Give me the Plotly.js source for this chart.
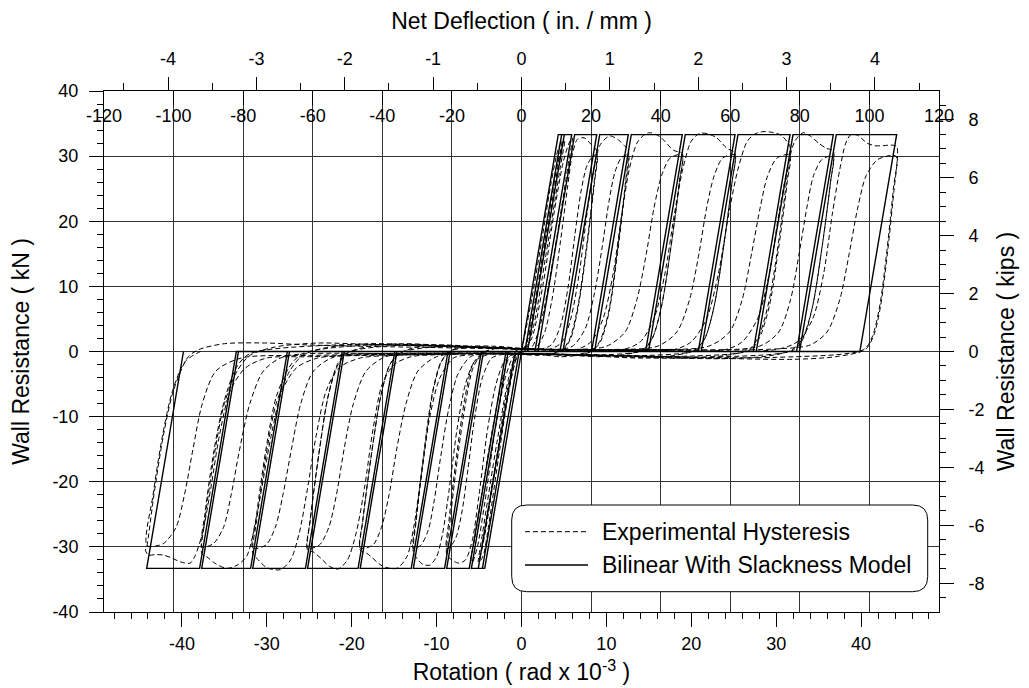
<!DOCTYPE html>
<html><head><meta charset="utf-8">
<script src="https://cdn.plot.ly/plotly-3.0.1.min.js"></script>
<style>html,body{margin:0;padding:0;background:#fff;} #chart{width:1029px;height:688px;}</style>
</head><body><div id="chart"></div>
<script>
// ---------------- DATA (rotation in rad x 10^-3, resistance in kN) ----------------
const seriesNames = ['Experimental Hysteresis', 'Bilinear With Slackness Model'];

// Bilinear with slackness model: vertex path
const modelPath = [
[0,0],[4.33,33.3],[4.73,33.3],[0.40,0],[0,0],[-4.33,-33.3],[-4.6,-33.3],[-0.27,0],
[0.40,0],[4.73,33.3],[5.04,33.3],[0.71,0],[-0.27,0],[-4.6,-33.3],[-5.09,-33.3],[-0.76,0],
[0.71,0],[5.04,33.3],[5.91,33.3],[1.58,0],[-0.76,0],[-5.09,-33.3],[-5.9,-33.3],[-1.57,0],
[1.58,0],[1.93,0],[6.26,33.3],[8.86,33.3],[4.53,0],[-1.57,0],[-1.82,0],[-6.15,-33.3],[-8.81,-33.3],[-4.48,0],
[4.53,0],[4.88,0],[9.21,33.3],[12.58,33.3],[8.25,0],[-4.48,0],[-4.73,0],[-9.06,-33.3],[-12.74,-33.3],[-8.41,0],
[8.25,0],[8.60,0],[12.93,33.3],[18.94,33.3],[14.61,0],[-8.41,0],[-8.66,0],[-12.99,-33.3],[-19.0,-33.3],[-14.67,0],
[14.61,0],[14.96,0],[19.29,33.3],[25.15,33.3],[20.82,0],[-14.67,0],[-14.92,0],[-19.25,-33.3],[-25.2,-33.3],[-20.87,0],
[20.82,0],[21.17,0],[25.5,33.3],[31.63,33.3],[27.3,0],[-20.87,0],[-21.12,0],[-25.45,-33.3],[-31.66,-33.3],[-27.33,0],
[27.3,0],[27.65,0],[31.98,33.3],[36.73,33.3],[32.4,0],[-27.33,0],[-27.58,0],[-31.91,-33.3],[-37.67,-33.3],[-33.34,0],
[32.4,0],[32.75,0],[37.08,33.3],[44.19,33.3],[39.86,0],[-33.34,0],[-33.59,0],[-37.92,-33.3],[-44.15,-33.3],[-39.82,0]
];

// Experimental hysteresis, read cycle by cycle (primary cycle, then repeat cycle)
const expSmall = [
[0,0],[1.2,8],[2.5,18],[3.5,26],[4.3,31],[4.75,32.4],[4.3,28.5],[2.6,15],[1.1,3.5],[0.2,0.3],[-0.6,-1],[-1.6,-7],[-2.9,-18],[-3.9,-27],[-4.5,-31.3],[-4.9,-32.2],[-4.4,-28],[-2.7,-14.5],[-1.2,-4],[-0.4,-0.5],[0.4,0.5],
[1.5,7],[3.0,19],[4.2,28.5],[4.9,32],[5.1,32.5],[4.6,28.5],[2.9,15],[1.4,3.8],[0.5,0.3],[-0.5,-0.5],[-1.7,-6],[-3.1,-18],[-4.3,-28],[-4.9,-31.6],[-5.1,-32.3],[-4.6,-28],[-2.9,-14],[-1.5,-4],[-0.6,-0.4],[0.3,0.4],
[1.2,2],[2.5,10],[3.8,21],[4.9,29],[5.6,32],[6.0,32.8],[5.6,29.5],[3.9,15.5],[2.3,4.5],[1.2,0.6],[0,-0.3],[-0.9,-0.7],[-1.9,-4],[-3.1,-12],[-4.3,-23],[-5.2,-30],[-5.8,-32.4],[-5.95,-32],[-5.4,-28],[-3.7,-14],[-2.2,-4],[-1.3,-0.6],[0,0.5]
];
const expLoopA = [
[1.5,0.4],[2.6,2.5],[3.6,8],[4.6,17],[5.4,25],[6.0,30.3],[6.6,32.6],[7.4,32.8],[8.2,31.8],[8.86,30.8],[8.55,26],[7.65,16],[6.65,7],[5.7,2],[4.8,0.3],[3.5,-0.4],[2,-0.6],[0.5,-0.5],[-1,-0.5],[-2,-1.5],[-3,-5],[-4,-12],[-5,-22],[-5.8,-29],[-6.6,-32],[-7.4,-32.5],[-8.2,-32],[-8.81,-31.2],[-8.5,-27],[-7.6,-17],[-6.6,-8],[-5.7,-2.5],[-4.6,-0.3],[-3,0.5],[-1.5,0.6],[0,0.4]
];
const expRepA = [
[2,0.3],[3.5,1],[4.6,4],[5.5,10],[6.3,18],[7.0,24.5],[7.7,28.5],[8.4,30],[8.9,30.2],[8.6,26],[7.7,16],[6.7,7],[5.8,2],[4.9,0.3],[3,-0.4],[0,-0.4],[-2,-0.4],[-3.5,-1],[-4.6,-4],[-5.5,-10],[-6.3,-18],[-7.0,-24.5],[-7.7,-28.5],[-8.4,-30],[-8.85,-30.3],[-8.55,-26],[-7.65,-16],[-6.65,-7],[-5.75,-2],[-4.7,-0.3],[-3,0.5],[0,0.4]
];
const expLoopB = [
[2,0.3],[3.5,0.4],[4.8,1.5],[5.8,5],[6.8,12],[7.7,21],[8.5,28],[9.3,31.8],[10.4,33.1],[11.4,32.5],[12.2,31.5],[12.58,31],[12.25,26],[11.25,15],[10.25,6],[9.2,1.5],[8.2,0],[6.5,-0.6],[4.5,-0.8],[2,-0.4],[0,-0.3],[-2,-0.3],[-4,-0.5],[-5.5,-1.5],[-6.6,-5],[-7.6,-12],[-8.5,-21],[-9.3,-28],[-10.0,-31.5],[-10.8,-32.8],[-11.6,-32.7],[-12.3,-31.8],[-12.74,-30.8],[-12.4,-26],[-11.4,-15],[-10.4,-6],[-9.4,-1.5],[-8.2,0.2],[-6,0.8],[-3,0.8],[0,0.5]
];
const expRepB = [
[4,0.3],[6,0.8],[7.5,3.5],[8.6,9],[9.5,16],[10.3,23],[11.0,27.5],[11.8,29.8],[12.6,30.2],[12.3,26],[11.3,15],[10.3,6],[9.3,1.5],[8.3,0.1],[6,-0.5],[0,-0.3],[-4,-0.3],[-6,-0.8],[-7.5,-3.5],[-8.6,-9],[-9.5,-16],[-10.3,-23],[-11.0,-27.5],[-11.9,-29.8],[-12.75,-30.2],[-12.45,-26],[-11.45,-15],[-10.45,-6],[-9.45,-1.5],[-8.3,0.1],[-5,0.7],[0,0.4]
];
const expLoopC = [
[3,0.2],[6.5,0.3],[8.2,1.5],[9.6,5],[10.8,12],[11.8,21],[12.7,28],[13.6,32],[14.4,33.2],[15.1,33.6],[16.3,33],[17.9,30.9],[18.94,30.4],[18.6,26],[17.6,16],[16.5,7],[15.4,2],[14.2,0.2],[12,-0.5],[9,-0.8],[6,-0.6],[3,-0.5],[0,-0.3],[-3,-0.3],[-6,-0.5],[-8,-1],[-9.6,-4],[-10.8,-10],[-11.8,-19],[-12.7,-27],[-13.5,-31.5],[-14.7,-33.3],[-16.3,-33],[-18.2,-31],[-19.0,-30.5],[-18.7,-26],[-17.7,-16],[-16.6,-7],[-15.5,-2],[-14.2,-0.2],[-12,0.8],[-9,1],[-6,0.8],[-3,0.5],[0,0.3]
];
const expRepC = [
[6,0.3],[10,0.8],[12.2,3],[13.6,8],[14.7,15],[15.6,22],[16.5,27],[17.5,29.7],[18.9,30.2],[18.6,26],[17.6,16],[16.5,7],[15.4,2],[14.3,0.2],[10,-0.5],[0,-0.3],[-6,-0.3],[-10,-0.8],[-12.2,-3],[-13.6,-8],[-14.7,-15],[-15.6,-22],[-16.5,-27],[-17.5,-29.7],[-19.0,-30.2],[-18.7,-26],[-17.7,-16],[-16.6,-7],[-15.5,-2],[-14.3,-0.2],[-9,0.8],[0,0.4]
];
const expLoopD = [
[6,0.2],[12,0.3],[14,1.5],[15.6,5],[16.9,12],[18.0,21],[19.0,28],[20.0,32.3],[21.0,33.5],[22.0,33.4],[23,32.8],[24.2,31.2],[25.15,30.5],[24.8,26],[23.8,16],[22.7,7],[21.6,2],[20.4,0.2],[18,-0.6],[14,-1.0],[10,-0.8],[5,-0.5],[0,-0.4],[-5,-0.3],[-10,-0.5],[-13,-0.8],[-15,-2],[-16.4,-5],[-17.5,-12],[-18.5,-21],[-19.5,-28],[-20.5,-32],[-21.6,-33.4],[-22.6,-33],[-23.6,-31.8],[-24.5,-30.8],[-25.2,-30.5],[-24.9,-26],[-23.9,-16],[-22.8,-7],[-21.6,-2],[-20.4,-0.2],[-18,0.8],[-14,1.2],[-10,1.0],[-5,0.7],[0,0.4]
];
const expRepD = [
[10,0.3],[16,0.8],[18.3,3],[19.8,8],[20.9,15],[21.8,22],[22.7,27],[23.7,29.7],[25.1,30.2],[24.8,26],[23.8,16],[22.7,7],[21.6,2],[20.5,0.2],[15,-0.6],[0,-0.3],[-10,-0.3],[-16,-0.8],[-18.3,-3],[-19.8,-8],[-20.9,-15],[-21.8,-22],[-22.7,-27],[-23.8,-29.7],[-25.2,-30.2],[-24.9,-26],[-23.9,-16],[-22.8,-7],[-21.7,-2],[-20.5,-0.2],[-14,1.0],[0,0.4]
];
const expLoopE = [
[8,0.2],[18,0.3],[20,1.5],[21.8,5],[23.2,12],[24.4,21],[25.5,28],[26.6,32.3],[27.5,33.4],[28.4,33.75],[29.3,33.7],[30.6,33.2],[31.4,32],[31.63,31.5],[31.3,27],[30.3,17],[29.2,8],[28.0,2.5],[26.8,0.3],[24,-0.6],[20,-1.0],[15,-1.0],[10,-0.7],[5,-0.5],[0,-0.4],[-5,-0.3],[-10,-0.4],[-15,-0.6],[-19,-1],[-21.5,-2.5],[-23.0,-6],[-24.2,-13],[-25.2,-21],[-26.2,-28],[-27.2,-32],[-28.4,-33.5],[-30,-33.2],[-31.0,-32],[-31.66,-31],[-31.2,-26],[-30.1,-16],[-28.9,-8],[-27.3,-3],[-25.8,-0.6],[-23,0.6],[-18,1.2],[-12,1],[-6,0.7],[0,0.4]
];
const expRepE = [
[14,0.3],[22,0.8],[24.5,3],[26,8],[27.1,15],[28.1,22],[29.0,27],[30.1,29.7],[31.6,30.2],[31.3,26],[30.3,16],[29.2,7],[28.0,2],[26.9,0.2],[20,-0.7],[0,-0.3],[-14,-0.3],[-22,-0.8],[-24.5,-3],[-26,-8],[-27.1,-15],[-28.1,-22],[-29,-27],[-30.1,-29.7],[-31.65,-30.2],[-31.2,-25],[-30.1,-15],[-28.9,-7],[-27.4,-2.5],[-25.9,-0.4],[-18,1.0],[0,0.4]
];
const expLoopF = [
[10,0.2],[24,0.3],[26,1.5],[27.8,5],[29.2,12],[30.3,21],[31.3,28],[32.2,32.3],[33.2,33.6],[34,33.1],[35,32],[35.9,31.2],[36.73,30.8],[36.4,26],[35.4,16],[34.3,7],[33.1,2],[31.8,0.2],[29,-0.7],[24,-1.1],[18,-1.0],[12,-0.7],[6,-0.5],[0,-0.4],[-6,-0.3],[-12,-0.5],[-18,-0.6],[-24,-1],[-26.5,-2.5],[-28.2,-6],[-29.5,-13],[-30.6,-21],[-31.6,-28],[-32.4,-31.5],[-33.5,-32.8],[-34.7,-33.3],[-36,-32.6],[-37.1,-31.5],[-37.67,-31],[-37.3,-26],[-36.2,-16],[-35,-8],[-33.5,-3],[-32,-0.6],[-29,0.7],[-24,1.3],[-18,1.1],[-12,0.9],[-6,0.6],[0,0.4]
];
const expRepF = [
[16,0.3],[28,0.8],[30.3,3],[31.7,8],[32.7,15],[33.6,22],[34.4,27],[35.4,29.5],[36.7,30],[36.4,26],[35.4,16],[34.3,7],[33.2,2],[32,0.2],[24,-0.8],[0,-0.3],[-16,-0.3],[-28,-0.8],[-30.4,-3],[-32,-8],[-33.2,-15],[-34.2,-22],[-35.1,-27],[-36.3,-29.5],[-37.65,-30],[-37.3,-25],[-36.2,-15],[-35,-7.5],[-33.6,-2.5],[-32.1,-0.4],[-22,1.0],[0,0.4]
];
const expLoopG = [
[12,0.2],[30,0.3],[32.5,1.5],[34.3,5],[35.6,12],[36.6,21],[37.5,28],[38.2,32],[38.8,33.3],[39.6,33.2],[40.7,32],[41.6,31.6],[42.6,31.6],[43.5,31.7],[44.19,31.5],[44.3,30],[43.9,25],[43.1,15],[42.3,7],[41.5,2.5],[40.5,0.3],[37,-0.8],[32,-1.2],[25,-1.1],[18,-0.9],[10,-0.6],[0,-0.4],[-10,-0.3],[-18,-0.5],[-25,-0.8],[-30,-1],[-32.5,-2.5],[-34.3,-6],[-35.6,-13],[-36.6,-21],[-37.6,-28],[-38.5,-31.5],[-39.05,-32.5],[-40.2,-32.3],[-41.2,-31.7],[-42.2,-31.25],[-43.2,-31.2],[-43.96,-31.25],[-44.3,-30.5],[-44.15,-30],[-43.3,-22],[-42.2,-13],[-41.0,-6],[-39.25,-0.8],[-38,0.3],[-35,1.2],[-30,1.3],[-25,1.0]
];
const expRepG = [
[-10,0.6],[10,0.2],[30,0.4],[34,1],[36,3],[37.5,8],[38.6,15],[39.6,22],[40.6,27],[42,29.5],[44.1,30],[43.8,25],[43,15],[42.2,7],[41.3,2.2],[40.3,0.3],[30,-0.9],[0,-0.4],[-25,-0.6],[-33,-1],[-36,-3],[-37.6,-8],[-38.7,-15],[-39.7,-22],[-40.7,-27],[-42.2,-29.5],[-44.1,-29.8],[-43.4,-22],[-42.3,-13],[-41.1,-6],[-39.6,-1.5],[-37.5,0.2]
];

// Axis definitions
const rotTicks = [-40,-30,-20,-10,0,10,20,30,40];
const inchTicks = [-4,-3,-2,-1,0,1,2,3,4];
const mmTicks = [-120,-100,-80,-60,-40,-20,0,20,40,60,80,100,120];
const kNTicks = [-40,-30,-20,-10,0,10,20,30,40];
const kipTicks = [-8,-6,-4,-2,0,2,4,6,8];
const wallHeightM = 2.44;          // rotation = deflection(mm) / height(m)
const mmRange = 120;
const kNRange = 40;
const kNPerKip = 4.448;

// ---------------- BUILD ----------------
const expPath = [].concat(expSmall, expLoopA, expRepA, expLoopB, expRepB, expLoopC, expRepC,
  expLoopD, expRepD, expLoopE, expRepE, expLoopF, expRepF, expLoopG, expRepG);

const rotRange = mmRange / wallHeightM;
const inRange = mmRange / 25.4;
const kipRange = kNRange / kNPerKip;

const FONT = '"Liberation Sans", Arial, Helvetica, sans-serif';

const traces = [
  { type:'scatter', mode:'lines', name:seriesNames[0], x:expPath.map(p=>p[0]), y:expPath.map(p=>p[1]),
    line:{color:'#000', width:1, dash:'5px,3px', shape:'spline', smoothing:0.8}, hoverinfo:'skip', showlegend:false },
  { type:'scatter', mode:'lines', name:seriesNames[1], x:modelPath.map(p=>p[0]), y:modelPath.map(p=>p[1]),
    line:{color:'#000', width:1.4}, hoverinfo:'skip', showlegend:false },
  { type:'scatter', mode:'lines', x:[null], y:[null], xaxis:'x2', yaxis:'y', showlegend:false, hoverinfo:'skip' },
  { type:'scatter', mode:'lines', x:[null], y:[null], xaxis:'x3', yaxis:'y', showlegend:false, hoverinfo:'skip' },
  { type:'scatter', mode:'lines', x:[null], y:[null], xaxis:'x', yaxis:'y2', showlegend:false, hoverinfo:'skip' }
];

// plot box in pixels (for legend placement only)
const L = 104, R = 939, T = 91, B = 612;
const PX = px => (px - L) / (R - L);
const PY = py => (B - py) / (B - T);
function roundRect(x0, y0, x1, y1, r) {
  const rx = r / (R - L), ry = r / (B - T);
  const a = PX(x0), b = PX(x1), top = PY(y0), bot = PY(y1);
  return `M${a+rx},${top} L${b-rx},${top} Q${b},${top} ${b},${top-ry} L${b},${bot+ry} Q${b},${bot} ${b-rx},${bot} ` +
         `L${a+rx},${bot} Q${a},${bot} ${a},${bot+ry} L${a},${top-ry} Q${a},${top} ${a+rx},${top} Z`;
}

const tickFont = {family:FONT, size:18, color:'#000'};
const titleFont = {family:FONT, size:23, color:'#000'};

const layout = {
  width:1029, height:688,
  margin:{l:L, r:1029-R, t:T, b:688-B, pad:0},
  paper_bgcolor:'#fff', plot_bgcolor:'#fff',
  font:{family:FONT, size:18, color:'#000'},
  showlegend:false,
  xaxis:{
    range:[-rotRange, rotRange], tickvals:rotTicks, ticktext:rotTicks.map(String),
    ticks:'outside', ticklen:14, tickwidth:1, tickcolor:'#000',
    minor:{ticks:'outside', ticklen:6, tickwidth:1, tickcolor:'#000', dtick:2, tick0:0, showgrid:false},
    showline:true, linecolor:'#000', linewidth:1, showgrid:false, zeroline:false,
    tickfont:tickFont, ticklabelstandoff:1,
    title:{text:'Rotation ( rad x 10<sup>-3</sup> )', font:titleFont, standoff:11},
    automargin:false, fixedrange:true
  },
  xaxis2:{
    overlaying:'x', side:'top', anchor:'y',
    range:[-inRange, inRange], tickvals:inchTicks, ticktext:inchTicks.map(String),
    ticks:'outside', ticklen:13, tickwidth:1, tickcolor:'#000',
    minor:{ticks:'outside', ticklen:7, tickwidth:1, tickcolor:'#000', dtick:0.5, tick0:0, showgrid:false},
    showline:true, linecolor:'#000', linewidth:1, showgrid:false, zeroline:false,
    tickfont:tickFont, ticklabelstandoff:5,
    title:{text:'Net Deflection ( in. / mm )', font:titleFont, standoff:12},
    automargin:false, fixedrange:true
  },
  xaxis3:{
    overlaying:'x', side:'top', anchor:'y',
    range:[-mmRange, mmRange], tickvals:mmTicks, ticktext:mmTicks.map(String),
    ticks:'inside', ticklen:14, tickwidth:1, tickcolor:'#000',
    ticklabelposition:'inside', ticklabeloverflow:'allow', ticklabelstandoff:5,
    showline:false, showgrid:true, gridcolor:'#333', gridwidth:1, zeroline:false,
    tickfont:tickFont, automargin:false, fixedrange:true
  },
  yaxis:{
    range:[-kNRange, kNRange], tickvals:kNTicks, ticktext:kNTicks.map(String),
    ticks:'outside', ticklen:14, tickwidth:1, tickcolor:'#000',
    minor:{ticks:'outside', ticklen:6, tickwidth:1, tickcolor:'#000', dtick:2, tick0:0, showgrid:false},
    showline:true, linecolor:'#000', linewidth:1, showgrid:true, gridcolor:'#333', gridwidth:1, zeroline:false,
    tickfont:tickFont, ticklabelstandoff:7,
    title:{text:'Wall Resistance ( kN )', font:titleFont, standoff:16},
    automargin:false, fixedrange:true
  },
  yaxis2:{
    overlaying:'y', side:'right', anchor:'x',
    range:[-kipRange, kipRange], tickvals:kipTicks, ticktext:kipTicks.map(String),
    ticks:'outside', ticklen:14, tickwidth:1, tickcolor:'#000',
    minor:{ticks:'outside', ticklen:6, tickwidth:1, tickcolor:'#000', dtick:0.5, tick0:0, showgrid:false},
    showline:true, linecolor:'#000', linewidth:1, showgrid:false, zeroline:false,
    tickfont:tickFont, ticklabelstandoff:11,
    title:{text:'Wall Resistance ( kips )', font:titleFont, standoff:14},
    automargin:false, fixedrange:true
  },
  shapes:[
    {type:'path', xref:'paper', yref:'paper', path:roundRect(511.7, 505, 927.7, 591.7, 15),
     fillcolor:'#fff', line:{color:'#000', width:1}, layer:'above'},
    {type:'line', xref:'paper', yref:'paper', x0:PX(525), x1:PX(588), y0:PY(531.7), y1:PY(531.7),
     line:{color:'#000', width:1, dash:'5px,3px'}, layer:'above'},
    {type:'line', xref:'paper', yref:'paper', x0:PX(525), x1:PX(588), y0:PY(565), y1:PY(565),
     line:{color:'#000', width:1.4}, layer:'above'}
  ],
  annotations:[
    {xref:'paper', yref:'paper', x:PX(600), y:PY(531.7), xanchor:'left', yanchor:'middle', showarrow:false,
     text:seriesNames[0], font:{family:FONT, size:23, color:'#000'}},
    {xref:'paper', yref:'paper', x:PX(600), y:PY(565), xanchor:'left', yanchor:'middle', showarrow:false,
     text:seriesNames[1], font:{family:FONT, size:23, color:'#000'}}
  ]
};

Plotly.newPlot('chart', traces, layout, {staticPlot:true, displayModeBar:false});
</script></body></html>
